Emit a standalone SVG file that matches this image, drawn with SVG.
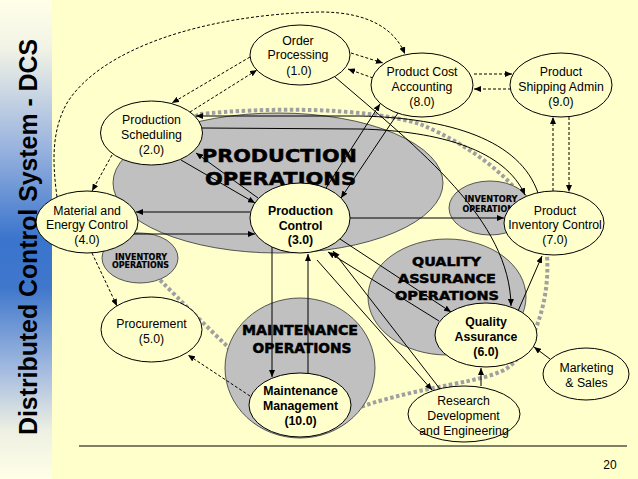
<svg xmlns="http://www.w3.org/2000/svg" width="638" height="479" viewBox="0 0 638 479">
<defs>
<linearGradient id="side" x1="0" y1="0" x2="0" y2="1">
<stop offset="0" stop-color="#FFFFE8"/>
<stop offset="0.1" stop-color="#F2F3E6"/>
<stop offset="0.3" stop-color="#9DB6DF"/>
<stop offset="0.5" stop-color="#3A74CC"/>
<stop offset="0.6" stop-color="#3F77CC"/>
<stop offset="0.78" stop-color="#A8BEE0"/>
<stop offset="0.9" stop-color="#EEF0E2"/>
<stop offset="1" stop-color="#FFFFE8"/>
</linearGradient>
<marker id="ah" markerUnits="userSpaceOnUse" markerWidth="7" markerHeight="6" refX="7" refY="3" orient="auto">
<path d="M0,0 L7,3 L0,6 z" fill="#000"/>
</marker>
<style>
.node ellipse{fill:#FFFFCC;stroke:#000;stroke-width:1}
.node text{font-family:"Liberation Sans",Arial,sans-serif;font-size:12.3px;text-anchor:middle;fill:#000}
.node.b text{font-weight:bold}
.area ellipse{fill:#C0C0C0;stroke:#333;stroke-width:0.8}
.area text{font-family:"DejaVu Sans",sans-serif;font-weight:bold;text-anchor:middle;fill:#000;stroke:#000;stroke-width:0.5}
.c path{fill:none;stroke:#000;stroke-width:1;marker-end:url(#ah)}
.c path.d{stroke-dasharray:3 2}
</style>
</defs>
<rect width="638" height="479" fill="#FFFFCC"/>
<rect x="0" y="0" width="52" height="479" fill="url(#side)"/>
<text transform="translate(37,237) rotate(-90)" text-anchor="middle" font-family="Liberation Sans,Arial,sans-serif" font-weight="bold" font-size="25" textLength="396" lengthAdjust="spacingAndGlyphs">Distributed Control System - DCS</text>
<line x1="79" y1="446" x2="627" y2="446" stroke="#000" stroke-width="1.2"/>
<text x="610" y="469" text-anchor="middle" font-family="Liberation Sans,Arial,sans-serif" font-size="12">20</text>

<path id="boundary" d="M 200,114 C 260,108 360,106 420,124 C 470,145 540,190 547,255 C 550,300 535,345 510,366 C 490,383 420,385 355,409 C 310,425 250,380 227,346 C 205,325 180,300 162,282 C 120,240 120,150 200,114 Z" fill="none" stroke="#A0A0A0" stroke-width="4" stroke-dasharray="3.5 2.5"/>

<g id="production-operations" class="area">
<ellipse cx="278" cy="183" rx="165" ry="70"/>
<text x="279.5" y="162" font-size="18.2" textLength="155" lengthAdjust="spacingAndGlyphs">PRODUCTION</text>
<text x="280.5" y="185" font-size="18.2" textLength="151" lengthAdjust="spacingAndGlyphs">OPERATIONS</text>
</g>
<g id="inventory-operations-left" class="area">
<ellipse cx="140" cy="258" rx="38" ry="25"/>
<text x="141" y="259.5" font-size="9" textLength="52" lengthAdjust="spacingAndGlyphs" style="stroke-width:0.2">INVENTORY</text>
<text x="140.5" y="268" font-size="9" textLength="57" lengthAdjust="spacingAndGlyphs" style="stroke-width:0.2">OPERATIONS</text>
</g>
<g id="inventory-operations-right" class="area">
<ellipse cx="490" cy="208" rx="41" ry="27"/>
<text x="491" y="202" font-size="9" textLength="53" lengthAdjust="spacingAndGlyphs" style="stroke-width:0.2">INVENTORY</text>
<text x="491" y="212" font-size="9" textLength="57" lengthAdjust="spacingAndGlyphs" style="stroke-width:0.2">OPERATIONS</text>
</g>
<g id="maintenance-operations" class="area">
<ellipse cx="300" cy="368" rx="75" ry="70"/>
<text x="300" y="335" font-size="13.3" textLength="116" lengthAdjust="spacingAndGlyphs">MAINTENANCE</text>
<text x="302" y="353" font-size="13.3" textLength="99" lengthAdjust="spacingAndGlyphs">OPERATIONS</text>
</g>
<g id="quality-assurance-operations" class="area">
<ellipse cx="447" cy="297" rx="79" ry="58"/>
<text x="446.5" y="266" font-size="12.8" textLength="69" lengthAdjust="spacingAndGlyphs">QUALITY</text>
<text x="447" y="283" font-size="12.8" textLength="98" lengthAdjust="spacingAndGlyphs">ASSURANCE</text>
<text x="447" y="300" font-size="12.8" textLength="104" lengthAdjust="spacingAndGlyphs">OPERATIONS</text>
</g>

<g id="connectors" class="c">
<path class="d" d="M 57,197 C 52,160 52,130 67,103 C 100,50 200,15 320,12 C 370,12 395,30 405,54"/>
<path class="d" d="M 250,57 L 172,103"/>
<path class="d" d="M 190,112 L 257,70"/>
<path class="d" d="M 351,53 L 383,63"/>
<path class="d" d="M 373,78 L 348,69"/>
<path class="d" d="M 474,74 L 512,74"/>
<path class="d" d="M 511,89 L 474,89"/>
<path class="d" d="M 553,191 L 553,117"/>
<path class="d" d="M 569,117 L 569,192"/>
<path class="d" d="M 112,155 L 92,191"/>
<path class="d" d="M 92,253 L 117,306"/>
<path class="d" d="M 250,396 L 188,355"/>
<path d="M 258,198 L 196,153"/>
<path d="M 181,160 L 255,203"/>
<path d="M 250,212 L 136,212"/>
<path d="M 134,234 L 255,234"/>
<path d="M 350,218 L 504,218"/>
<path d="M 326,188 L 380,104"/>
<path d="M 398,113 L 341,198"/>
<path d="M 335,77 C 420,150 510,220 511,306"/>
<path d="M 538,193 C 520,140 450,118 360,116 L 196,116"/>
<path d="M 202,128 L 360,129 C 440,131 505,150 525,195"/>
<path d="M 272,247 L 272,377"/>
<path d="M 308,373 L 308,254"/>
<path d="M 340,239 L 451,312"/>
<path d="M 439,321 L 328,252"/>
<path d="M 440,389 L 333,251"/>
<path d="M 317,260 L 432,390"/>
<path d="M 518,311 L 542,256"/>
<path d="M 550,359 L 534,347"/>
<path d="M 481,386 L 481,368"/>
</g>

<g id="n1" class="node">
<ellipse cx="300" cy="55" rx="50" ry="30"/>
<text x="298" y="44.5">Order</text>
<text x="298" y="59">Processing</text>
<text x="299" y="74.5">(1.0)</text>
</g>
<g id="n2" class="node">
<ellipse cx="151.5" cy="133" rx="51" ry="32"/>
<text x="151.5" y="123.5">Production</text>
<text x="151.5" y="138.5">Scheduling</text>
<text x="151.5" y="153.5">(2.0)</text>
</g>
<g id="n3" class="node b">
<ellipse cx="300" cy="218" rx="50" ry="35"/>
<text x="300.5" y="214.5">Production</text>
<text x="300.5" y="229.5">Control</text>
<text x="300.5" y="243.5">(3.0)</text>
</g>
<g id="n4" class="node">
<ellipse cx="87" cy="222" rx="51" ry="31"/>
<text x="87" y="214.5">Material and</text>
<text x="87" y="228.5">Energy Control</text>
<text x="87" y="243.5">(4.0)</text>
</g>
<g id="n5" class="node">
<ellipse cx="151.5" cy="329.5" rx="50.5" ry="32.5"/>
<text x="151.5" y="327.5">Procurement</text>
<text x="151.5" y="342.5">(5.0)</text>
</g>
<g id="n6" class="node b">
<ellipse cx="486" cy="335" rx="51" ry="32"/>
<text x="486" y="325.5">Quality</text>
<text x="486" y="340.5">Assurance</text>
<text x="486" y="355.5">(6.0)</text>
</g>
<g id="n7" class="node">
<ellipse cx="554" cy="223" rx="50" ry="32"/>
<text x="555" y="214.5">Product</text>
<text x="555" y="228.5">Inventory Control</text>
<text x="555" y="244">(7.0)</text>
</g>
<g id="n8" class="node">
<ellipse cx="422" cy="85" rx="51" ry="32"/>
<text x="422" y="75.5">Product Cost</text>
<text x="422" y="90.5">Accounting</text>
<text x="422" y="105.5">(8.0)</text>
</g>
<g id="n9" class="node">
<ellipse cx="561" cy="85" rx="51" ry="32"/>
<text x="561" y="75.5">Product</text>
<text x="561" y="90.5">Shipping Admin</text>
<text x="561" y="105.5">(9.0)</text>
</g>
<g id="n10" class="node b">
<ellipse cx="300" cy="405" rx="51" ry="32"/>
<text x="300.5" y="394.5">Maintenance</text>
<text x="300.5" y="409.5">Management</text>
<text x="300.5" y="425">(10.0)</text>
</g>
<g id="n-marketing" class="node">
<ellipse cx="586" cy="374" rx="43" ry="26"/>
<text x="586.5" y="371.5">Marketing</text>
<text x="586.5" y="386.5">&amp; Sales</text>
</g>
<g id="n-research" class="node">
<ellipse cx="464" cy="414" rx="56" ry="28"/>
<text x="463.5" y="404.5">Research</text>
<text x="463.5" y="419.5">Development</text>
<text x="464" y="434.5">and Engineering</text>
</g>
</svg>
